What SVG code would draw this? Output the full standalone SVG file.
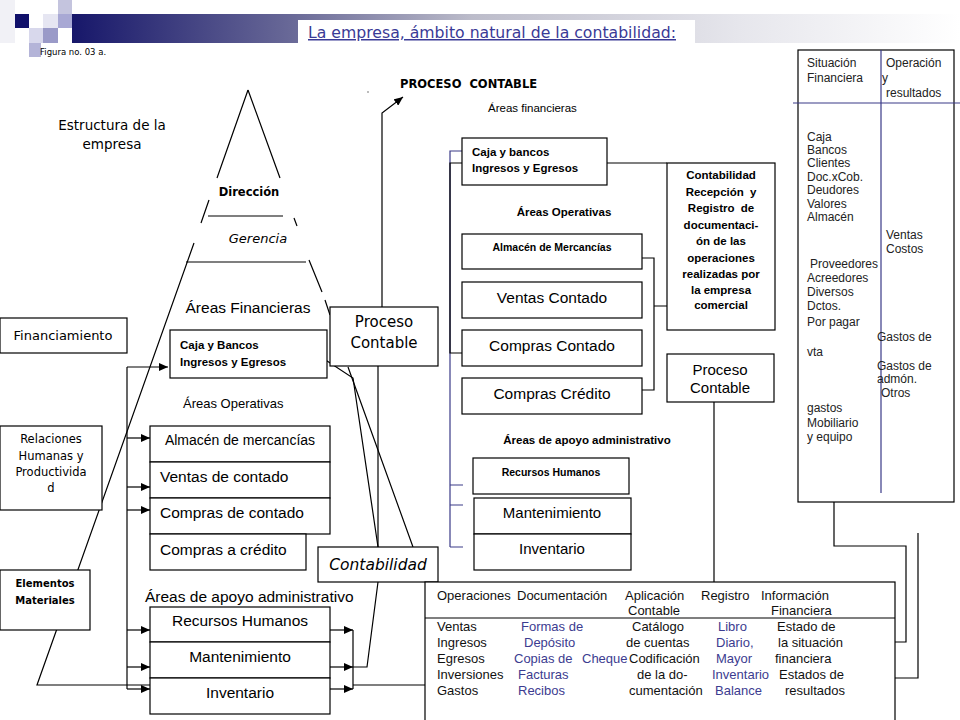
<svg xmlns="http://www.w3.org/2000/svg" width="960" height="720" viewBox="0 0 960 720">
<style>
.cm{font-family:"DejaVu Sans",Verdana,sans-serif;}
.ar{font-family:"Liberation Sans",Arial,sans-serif;}
.b{font-weight:bold;}
.box{fill:#fff;stroke:#000;stroke-width:1.2;}
.ln{fill:none;stroke:#000;stroke-width:1.2;}
.nv{fill:none;stroke:#3a3a88;stroke-width:1.2;}
.blue{fill:#3c3c90;}
.gr{fill:#222;}
</style>
<defs>
<linearGradient id="band" x1="72" y1="0" x2="960" y2="0" gradientUnits="userSpaceOnUse">
<stop offset="0" stop-color="#17176a"/>
<stop offset="0.25" stop-color="#6a6a98"/>
<stop offset="0.45" stop-color="#bcbcca"/>
<stop offset="0.75" stop-color="#e6e6ec"/>
<stop offset="1" stop-color="#ffffff"/>
</linearGradient>
<marker id="ah" markerWidth="9" markerHeight="8" refX="9" refY="4" orient="auto" markerUnits="userSpaceOnUse">
<path d="M0,0 L9,4 L0,8 Z" fill="#000"/>
</marker>
</defs>
<rect width="960" height="720" fill="#fff"/>
<g id="header">
<rect x="0" y="0" width="15" height="43" fill="#f1f1f6"/>
<rect x="58" y="0" width="14" height="14" fill="#c4c4de"/>
<rect x="15" y="14" width="14" height="14" fill="#10106a"/>
<rect x="43" y="14" width="15" height="14" fill="#e6e6f2"/>
<rect x="58" y="14" width="14" height="14" fill="#a8a8d4"/>
<rect x="29" y="28" width="14" height="15" fill="#d8d8ec"/>
<rect x="43" y="28" width="15" height="15" fill="#9a9ac8"/>
<rect x="29" y="43" width="12" height="14" fill="#b4b4d8"/>
<rect x="72" y="14" width="888" height="29" fill="url(#band)"/>
<rect x="298" y="20" width="397" height="24" fill="#fff"/>
<text x="308" y="38" class="cm" font-size="15" fill="#3a3a96" text-decoration="underline" textLength="368" lengthAdjust="spacingAndGlyphs">La empresa, ámbito natural de la contabilidad:</text>
<text x="40" y="55" class="cm" font-size="8.5" fill="#000">Figura no. 03 a.</text>
</g>
<g id="connectors">
<path class="ln" d="M248,90 L217,178 M209,200 L201,223 M194,243 L37,685 H150"/>
<path class="ln" d="M248,90 L280,178 M294,218 L297,226 M309,260 L322,292 M325,300 L330,315 M348,367 L413,547"/>
<path class="ln" d="M208,216 H283 M186,262 H306"/>
<path class="ln" d="M318,355 L353,378 L378,547"/>
<path class="ln" d="M127,367 V689"/>
<path class="ln" d="M127,367 H168" marker-end="url(#ah)"/>
<path class="ln" d="M127,438 H150" marker-end="url(#ah)"/>
<path class="ln" d="M127,487 H150" marker-end="url(#ah)"/>
<path class="ln" d="M127,510 H150" marker-end="url(#ah)"/>
<path class="ln" d="M127,630 H150" marker-end="url(#ah)"/>
<path class="ln" d="M127,667 H150" marker-end="url(#ah)"/>
<path class="ln" d="M127,689 H150" marker-end="url(#ah)"/>
<path class="ln" d="M330,630 H353" marker-end="url(#ah)"/>
<path class="ln" d="M330,667 H353" marker-end="url(#ah)"/>
<path class="ln" d="M330,689 H353" marker-end="url(#ah)"/>
<path class="ln" d="M353,630 V689 M353,667 H367 L378,582 M353,685 H425"/>
<path class="ln" d="M378,366 V547"/>
<path class="ln" d="M382,307 V113 L403,97" marker-end="url(#ah)"/>
<circle cx="368" cy="92" r="0.8" fill="#666"/>
<path class="nv" d="M462,151 H450 V547 M450,485 H463 M450,505 H463 M450,547 H463"/>
<path class="ln" d="M462,163 H450 V353 H462"/>
<path class="ln" d="M607,163 H667"/>
<path class="ln" d="M642,258 H654 V390 H642 M654,306 H667"/>
<path class="ln" d="M714,402 V582"/>
<path class="ln" d="M834,502 V546 H906 V642 H895 M918,533 V678 H895"/>
</g>
<g id="estructura">
<text class="cm" font-size="13.5" text-anchor="middle" x="112" y="130">Estructura de la</text>
<text class="cm" font-size="13.5" text-anchor="middle" x="112" y="149">empresa</text>
<text class="cm b" font-size="11.5" text-anchor="middle" x="249" y="196">Dirección</text>
<text class="cm" font-size="13" font-style="italic" text-anchor="middle" x="258" y="243">Gerencia</text>
<text class="ar" font-size="15.5" text-anchor="middle" x="248" y="313">Áreas Financieras</text>
<text class="ar" font-size="13" x="183" y="408">Áreas Operativas</text>
<text class="ar" font-size="15.5" x="145" y="602">Áreas de apoyo administrativo</text>
</g>
<g id="financiamiento">
<rect class="box" x="0" y="318" width="127" height="35"/>
<text class="cm" font-size="13" text-anchor="middle" x="63" y="340">Financiamiento</text>
</g>
<g id="relaciones">
<rect class="box" x="0" y="426" width="102" height="84"/>
<text class="cm" font-size="11.5" text-anchor="middle" x="51" y="443">Relaciones</text>
<text class="cm" font-size="11.5" text-anchor="middle" x="51" y="460">Humanas y</text>
<text class="cm" font-size="11.5" text-anchor="middle" x="51" y="476">Productivida</text>
<text class="cm" font-size="11.5" text-anchor="middle" x="51" y="492">d</text>
</g>
<g id="elementos">
<rect class="box" x="0" y="570" width="90" height="60"/>
<text class="cm b" font-size="10" text-anchor="middle" x="45" y="587">Elementos</text>
<text class="cm b" font-size="10" text-anchor="middle" x="45" y="604">Materiales</text>
</g>
<g id="caja-bancos-izq">
<rect class="box" x="170" y="330" width="157" height="48"/>
<text class="ar b" font-size="11.5" x="180" y="349">Caja y Bancos</text>
<text class="ar b" font-size="11.5" x="180" y="366">Ingresos y Egresos</text>
</g>
<g id="almacen-izq">
<rect class="box" x="150" y="426" width="180" height="36"/>
<text class="ar" font-size="14" text-anchor="middle" x="240" y="445">Almacén de mercancías</text>
</g>
<g id="ventas-izq">
<rect class="box" x="150" y="462" width="180" height="36"/>
<text class="ar" font-size="15.5" x="160" y="482">Ventas de contado</text>
</g>
<g id="compras-contado-izq">
<rect class="box" x="150" y="498" width="180" height="36"/>
<text class="ar" font-size="15.5" x="160" y="518">Compras de contado</text>
</g>
<g id="compras-credito-izq">
<rect class="box" x="150" y="534" width="156" height="36"/>
<text class="ar" font-size="15.5" x="160" y="555">Compras a crédito</text>
</g>
<g id="rh-izq">
<rect class="box" x="150" y="607" width="180" height="35"/>
<text class="ar" font-size="15.5" text-anchor="middle" x="240" y="626">Recursos Humanos</text>
</g>
<g id="mant-izq">
<rect class="box" x="150" y="642" width="180" height="36"/>
<text class="ar" font-size="15.5" text-anchor="middle" x="240" y="662">Mantenimiento</text>
</g>
<g id="inv-izq">
<rect class="box" x="150" y="678" width="180" height="36"/>
<text class="ar" font-size="15.5" text-anchor="middle" x="240" y="698">Inventario</text>
</g>
<g id="proceso-centro">
<rect class="box" x="330" y="307" width="108" height="59"/>
<text class="cm" font-size="15" text-anchor="middle" x="384" y="327">Proceso</text>
<text class="cm" font-size="15" text-anchor="middle" x="384" y="348">Contable</text>
</g>
<g id="contabilidad">
<rect class="box" x="318" y="547" width="120" height="35"/>
<text class="cm" font-size="15.5" font-style="italic" text-anchor="middle" x="378" y="570">Contabilidad</text>
</g>
<g id="proceso-titulo">
<text class="cm b" font-size="11.5" x="400" y="88" word-spacing="4">PROCESO CONTABLE</text>
<text class="ar" font-size="11.5" x="488" y="112">Áreas financieras</text>
<text class="ar b" font-size="11.5" text-anchor="middle" x="564" y="216">Áreas Operativas</text>
<text class="ar b" font-size="11.5" text-anchor="middle" x="587" y="444">Áreas de apoyo administrativo</text>
</g>
<g id="caja-bancos-der">
<rect class="box" x="462" y="138" width="145" height="47"/>
<text class="ar b" font-size="11.5" x="472" y="156">Caja y bancos</text>
<text class="ar b" font-size="11.5" x="472" y="172">Ingresos y Egresos</text>
</g>
<g id="almacen-der">
<rect class="box" x="462" y="234" width="180" height="35"/>
<text class="ar b" font-size="10.5" text-anchor="middle" x="552" y="251">Almacén de Mercancías</text>
</g>
<g id="ventas-der">
<rect class="box" x="462" y="282" width="180" height="36"/>
<text class="ar" font-size="15.5" text-anchor="middle" x="552" y="303">Ventas Contado</text>
</g>
<g id="compras-contado-der">
<rect class="box" x="462" y="330" width="180" height="36"/>
<text class="ar" font-size="15.5" text-anchor="middle" x="552" y="351">Compras Contado</text>
</g>
<g id="compras-credito-der">
<rect class="box" x="462" y="378" width="180" height="36"/>
<text class="ar" font-size="15.5" text-anchor="middle" x="552" y="399">Compras Crédito</text>
</g>
<g id="rh-der">
<rect class="box" x="473" y="458" width="156" height="36"/>
<text class="ar b" font-size="10.5" text-anchor="middle" x="551" y="476">Recursos Humanos</text>
</g>
<g id="mant-der">
<rect class="box" x="474" y="498" width="157" height="36"/>
<text class="ar" font-size="15" text-anchor="middle" x="552" y="518">Mantenimiento</text>
</g>
<g id="inv-der">
<rect class="box" x="474" y="534" width="157" height="36"/>
<text class="ar" font-size="15" text-anchor="middle" x="552" y="554">Inventario</text>
</g>
<g id="contabilidad-der">
<rect class="box" x="667" y="163" width="108" height="167"/>
<g class="ar b" font-size="11.5" text-anchor="middle">
<text x="721" y="179">Contabilidad</text>
<text x="721" y="196" word-spacing="3">Recepción y</text>
<text x="721" y="212" word-spacing="3">Registro de</text>
<text x="721" y="229">documentaci-</text>
<text x="721" y="245">ón de las</text>
<text x="721" y="262">operaciones</text>
<text x="721" y="278">realizadas por</text>
<text x="721" y="294">la empresa</text>
<text x="721" y="309">comercial</text>
</g>
</g>
<g id="proceso-der">
<rect class="box" x="667" y="354" width="107" height="48"/>
<text class="ar" font-size="15" text-anchor="middle" x="720" y="375">Proceso</text>
<text class="ar" font-size="15" text-anchor="middle" x="720" y="393">Contable</text>
</g>
<g id="estados">
<rect class="box" x="798" y="50" width="156" height="452"/>
<path class="nv" d="M881,50 V493 M793,103 H960"/>
<g class="ar gr" font-size="12">
<text x="807" y="67">Situación</text>
<text x="807" y="82">Financiera</text>
<text x="886" y="67">Operación</text>
<text x="882" y="82">y</text>
<text x="886" y="97">resultados</text>
<text x="807" y="141">Caja</text>
<text x="807" y="154">Bancos</text>
<text x="807" y="167">Clientes</text>
<text x="807" y="181">Doc.xCob.</text>
<text x="807" y="194">Deudores</text>
<text x="807" y="208">Valores</text>
<text x="807" y="221">Almacén</text>
<text x="886" y="239">Ventas</text>
<text x="886" y="253">Costos</text>
<text x="810" y="268">Proveedores</text>
<text x="807" y="282">Acreedores</text>
<text x="807" y="296">Diversos</text>
<text x="807" y="310">Dctos.</text>
<text x="807" y="326">Por pagar</text>
<text x="877" y="341">Gastos de</text>
<text x="807" y="356">vta</text>
<text x="877" y="370">Gastos de</text>
<text x="877" y="383">admón.</text>
<text x="881" y="397">Otros</text>
<text x="807" y="412">gastos</text>
<text x="807" y="427">Mobiliario</text>
<text x="807" y="441">y equipo</text>
</g>
</g>
<g id="tabla">
<rect class="box" x="425" y="582" width="470" height="150"/>
<path class="ln" d="M425,618 H895"/>
<g class="ar" font-size="13" fill="#111">
<text x="437" y="600">Operaciones</text>
<text x="517" y="600">Documentación</text>
<text x="625" y="600">Aplicación</text>
<text x="701" y="600">Registro</text>
<text x="761" y="600">Información</text>
<text x="628" y="615">Contable</text>
<text x="771" y="615">Financiera</text>
<text x="437" y="631">Ventas</text>
<text x="437" y="647">Ingresos</text>
<text x="437" y="663">Egresos</text>
<text x="437" y="679">Inversiones</text>
<text x="437" y="695">Gastos</text>
<text x="632" y="631">Catálogo</text>
<text x="626" y="647">de cuentas</text>
<text x="629" y="663">Codificación</text>
<text x="637" y="679">de la do-</text>
<text x="629" y="695">cumentación</text>
<text x="777" y="631">Estado de</text>
<text x="778" y="647">la situación</text>
<text x="775" y="663">financiera</text>
<text x="779" y="679">Estados de</text>
<text x="785" y="695">resultados</text>
</g>
<g class="ar blue" font-size="13">
<text x="521" y="631">Formas de</text>
<text x="524" y="647">Depósito</text>
<text x="514" y="663">Copias de</text>
<text x="582" y="663">Cheque</text>
<text x="518" y="679">Facturas</text>
<text x="518" y="695">Recibos</text>
<text x="718" y="631">Libro</text>
<text x="716" y="647">Diario,</text>
<text x="716" y="663">Mayor</text>
<text x="712" y="679">Inventario</text>
<text x="715" y="695">Balance</text>
</g>
</g>
</svg>
